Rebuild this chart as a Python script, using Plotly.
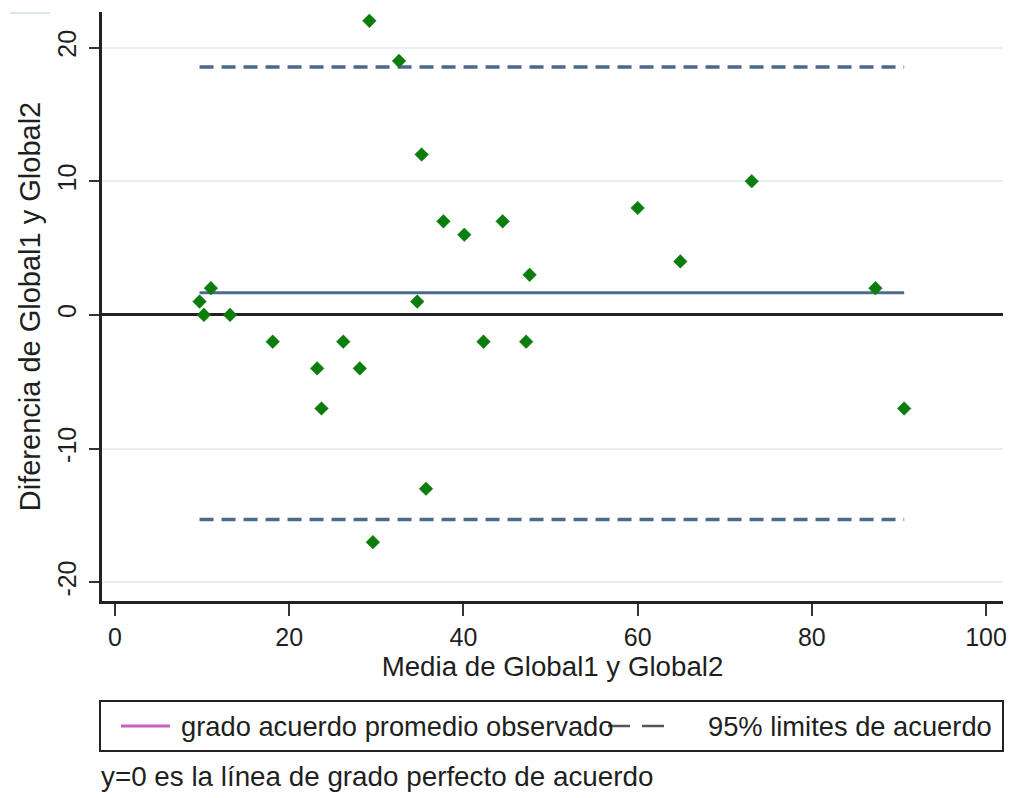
import plotly.graph_objects as go

# Bland-Altman data: mean of the two measurements vs. their difference
mean_vals = [9.7, 11.0, 10.2, 13.2, 18.1, 23.2, 23.7, 26.2, 28.1, 29.2, 29.6,
             32.6, 35.2, 34.7, 35.7, 37.7, 40.1, 44.5, 47.6, 42.3, 47.2,
             60.0, 64.9, 73.1, 87.3, 90.6]
diff_vals = [1, 2, 0, 0, -2, -4, -7, -2, -4, 22, -17,
             19, 12, 1, -13, 7, 6, 7, 3, -2, -2,
             8, 4, 10, 2, -7]

mean_diff = 1.65          # observed mean agreement
loa_upper = 18.55         # upper 95% limit of agreement
loa_lower = -15.3         # lower 95% limit of agreement

x_ticks = [0, 20, 40, 60, 80, 100]
y_ticks = [-20, -10, 0, 10, 20]

W, H = 1014, 798
M_L, M_R, M_T, M_B = 102, 11, 12, 197
PW, PH = W - M_L - M_R, H - M_T - M_B


def px_x(px):
    return (px - M_L) / PW


def px_y(py):
    return (H - M_B - py) / PH


FONT = "Liberation Sans, Arial, sans-serif"
TXT = "#1f1f1f"
LINE_BLUE = "#4c6b8c"

x_lo, x_hi = min(mean_vals), max(mean_vals)

fig = go.Figure()

# limits of agreement
for val in (loa_upper, loa_lower):
    fig.add_trace(go.Scatter(
        x=[x_lo, x_hi], y=[val, val], mode="lines",
        line=dict(color=LINE_BLUE, width=3.5, dash="14px,8px"),
        hoverinfo="skip", showlegend=False))

# mean difference
fig.add_trace(go.Scatter(
    x=[x_lo, x_hi], y=[mean_diff, mean_diff], mode="lines",
    line=dict(color=LINE_BLUE, width=3),
    hoverinfo="skip", showlegend=False))

# observations
fig.add_trace(go.Scatter(
    x=mean_vals, y=diff_vals, mode="markers",
    marker=dict(symbol="diamond", size=10.5, color="#0b7d0b",
                line=dict(width=0.5, color="#0b7d0b")),
    showlegend=False))

shapes = [
    # legend frame
    dict(type="rect", xref="paper", yref="paper",
         x0=px_x(100), x1=px_x(1003), y0=px_y(751), y1=px_y(701),
         line=dict(color="#222222", width=2), fillcolor="white"),
    # legend key: mean line
    dict(type="line", xref="paper", yref="paper",
         x0=px_x(121), x1=px_x(170), y0=px_y(726), y1=px_y(726),
         line=dict(color="#c462c4", width=3)),
    # legend key: limits
    dict(type="line", xref="paper", yref="paper",
         x0=px_x(608), x1=px_x(630), y0=px_y(726), y1=px_y(726),
         line=dict(color="#555555", width=2.5)),
    dict(type="line", xref="paper", yref="paper",
         x0=px_x(642), x1=px_x(664), y0=px_y(726), y1=px_y(726),
         line=dict(color="#555555", width=2.5)),
    # faint stroke at the top-left corner
    dict(type="line", xref="paper", yref="paper",
         x0=px_x(10), x1=px_x(50), y0=px_y(13), y1=px_y(13),
         line=dict(color="#dbe7ec", width=2)),
]

annotations = [
    dict(text="grado acuerdo promedio observado", xref="paper", yref="paper",
         x=px_x(179), y=px_y(726), xanchor="left", yanchor="middle",
         showarrow=False, font=dict(family=FONT, size=27.3, color=TXT)),
    dict(text="95% limites de acuerdo", xref="paper", yref="paper",
         x=px_x(706), y=px_y(726), xanchor="left", yanchor="middle",
         showarrow=False, font=dict(family=FONT, size=27.3, color=TXT)),
    dict(text="y=0 es la línea de grado perfecto de acuerdo",
         xref="paper", yref="paper",
         x=px_x(99), y=px_y(776), xanchor="left", yanchor="middle",
         showarrow=False, font=dict(family=FONT, size=27.8, color=TXT)),
]

fig.update_layout(
    width=W, height=H,
    margin=dict(l=M_L, r=M_R, t=M_T, b=M_B, autoexpand=False),
    paper_bgcolor="white", plot_bgcolor="white",
    font=dict(family=FONT, color=TXT),
    shapes=shapes, annotations=annotations,
    xaxis=dict(
        range=[-1.5, 101.95], tickvals=x_ticks,
        ticktext=[str(v) for v in x_ticks],
        showgrid=False, zeroline=False,
        showline=True, linecolor="#222222", linewidth=3,
        ticks="outside", ticklen=12, tickwidth=2, tickcolor="#333333",
        tickfont=dict(family=FONT, size=25, color=TXT),
        title=dict(text="Media de Global1 y Global2",
                   font=dict(family=FONT, size=27.7, color=TXT), standoff=3),
    ),
    yaxis=dict(
        range=[-21.4, 22.66], tickvals=y_ticks,
        ticktext=[str(v) for v in y_ticks],
        showgrid=True, gridcolor="#e6f0f1", gridwidth=2,
        zeroline=True, zerolinecolor="#222222", zerolinewidth=3,
        showline=True, linecolor="#222222", linewidth=3,
        ticks="outside", ticklen=10, tickwidth=2, tickcolor="#333333",
        tickangle=-90, ticklabelstandoff=3,
        tickfont=dict(family=FONT, size=25, color=TXT),
        title=dict(text="Diferencia de Global1 y Global2",
                   font=dict(family=FONT, size=29, color=TXT), standoff=4),
    ),
)

fig.write_html("out.html")
